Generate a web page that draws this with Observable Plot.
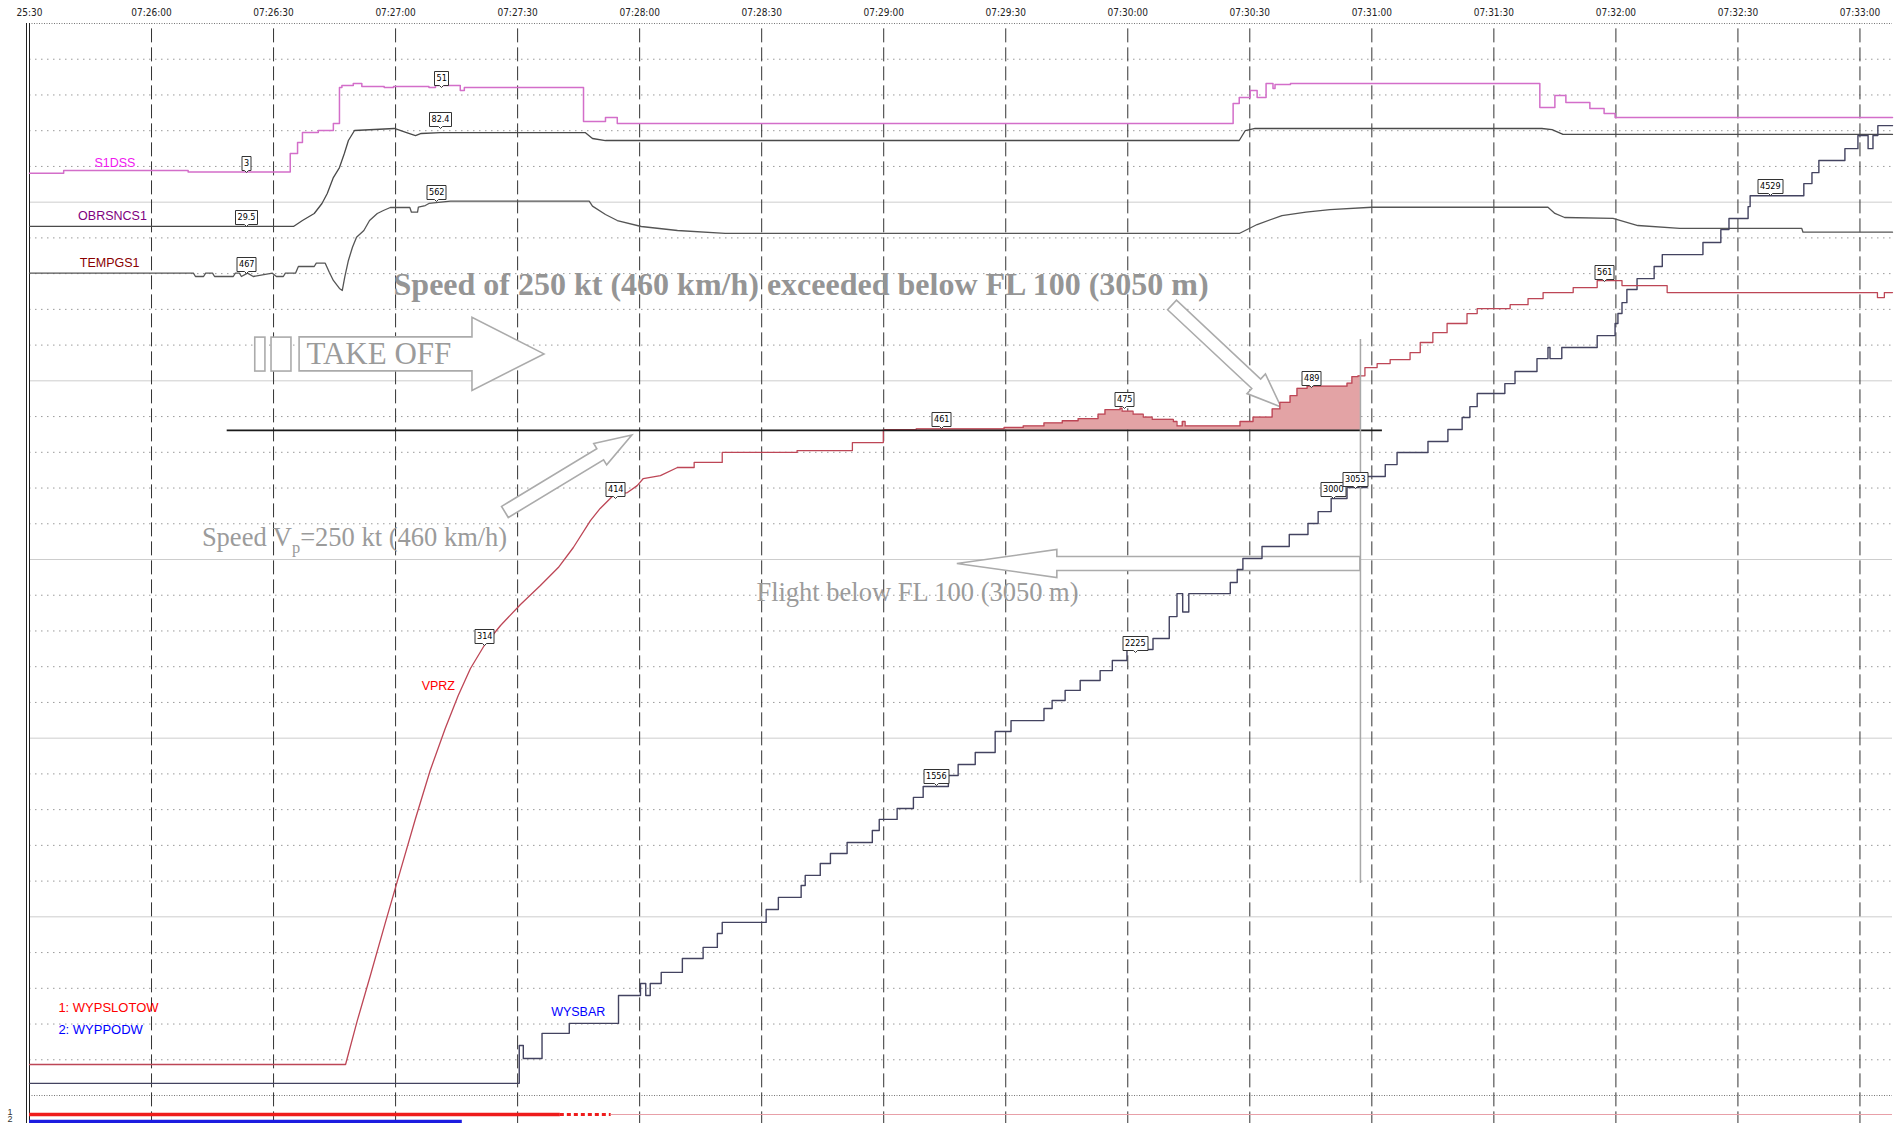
<!DOCTYPE html>
<html><head><meta charset="utf-8">
<script src="https://cdn.jsdelivr.net/npm/d3@7"></script>
<script src="https://cdn.jsdelivr.net/npm/@observablehq/plot@0.6"></script>
<style>html,body{margin:0;padding:0;background:#fff;overflow:hidden}#chart svg{display:block}
g[aria-label=tip] path{filter:none}</style>
</head><body><div id="chart"></div>
<script>
// ---------- time axis ----------
const BASE = Date.UTC(2010, 3, 10, 7, 25, 30);
const T = s => new Date(BASE + s * 1000);
const tickSeconds = [0, 30, 60, 90, 120, 150, 180, 210, 240, 270, 300, 330, 360, 390, 420, 450];
const tickLabels = ["25:30", "07:26:00", "07:26:30", "07:27:00", "07:27:30", "07:28:00", "07:28:30", "07:29:00",
  "07:29:30", "07:30:00", "07:30:30", "07:31:00", "07:31:30", "07:32:00", "07:32:30", "07:33:00"];

// ---------- series [seconds after 07:25:30, value] ----------
const S1DSS = [[0,2.6],[8.4,4.1],[39,3.2],[64.1,13.7],[65.9,19.9],[67.1,25.6],[71,26.7],[74.7,30.7],[76.2,51],[76.8,52.1],
  [79.6,53.3],[81.7,51.6],[87.2,51],[89.5,51.6],[98.2,51],[99.8,52.1],[105.9,49.3],[106.9,51],[136.2,31.8],[141.6,34.1],
  [144.5,30.7],[295.9,42],[297.4,45.3],[300.1,49.3],[301.8,45.3],[304,53.3],[305.7,50.4],[306.2,52.7],[310,53.3],
  [371.3,39.7],[375,46.5],[377.7,42.5],[383.6,39.1],[387.1,36.3],[389.8,34.1],[458,34.1]];
const OBRSNCS1 = [[0,29.5],[64.9,29.5],[67.1,32.7],[70,36.5],[71.9,41.9],[73.2,47.3],[74.7,55.9],[76.2,61.3],[77.4,68.9],
  [78.4,75.9],[79.9,81.3],[89.7,82.4],[92.7,80.2],[94.9,78.6],[96.3,79.7],[101,80.2],[136.6,80.2],[138.4,77],[141.6,75.9],
  [297.4,75.9],[298.9,81.3],[301.3,82.4],[371.8,82.4],[374.3,81.8],[377,79.2],[458,79.2]];
const TEMPGS1 = [[0,467],[40.3,467],[40.8,462.6],[42.8,462.6],[43.3,467],[45,467],[45.5,462.6],[50.1,462.6],[50.6,467],
  [51.6,467],[52.1,462.6],[53.6,467],[55,462.6],[59.7,467],[60.7,462.6],[62.4,462.6],[62.9,467],[65.4,467],[66.1,475.8],
  [70,475.8],[70.5,480.2],[72.7,480.2],[73.7,468.3],[74.7,457.4],[76.2,446.8],[76.9,444.2],[77.5,461.7],[78.4,483.8],
  [79.4,501.3],[80.4,514.5],[82.2,523.3],[83.6,536.5],[85.5,545.8],[87,549.7],[88.7,553.7],[93.5,553.7],[93.9,547.5],
  [95.4,547.5],[95.6,554.1],[97.3,556.3],[98.2,559],[103.5,562],[137.6,562],[138.4,555.5],[141.6,544.4],[144.5,536.5],
  [150.4,528.6],[159.3,523.3],[171,519.4],[297.4,519.4],[301.8,531.2],[307.9,543.1],[313.8,547.6],[319.7,551],[330,554],
  [373.3,554],[375,545.8],[377.4,540.5],[389.3,539.2],[395.4,529.9],[405.7,526],[435.7,526],[436,521.1],[458,521.1]];
const VPRZ_CLIMB = [[0,29.7],[77.7,29.7],[80.6,59.6],[83.8,90.1],[87.5,126.1],[91.2,161.4],[94.9,196.6],[98.5,229.2],
  [102.2,257.7],[105.4,280.1],[108.4,298.4],[111.8,314],[115.8,327.6],[120.7,341.8],[125.6,354.7],[130,366.9],[133.7,380.5],
  [137.9,398.8],[140.3,407],[143.5,415.8],[147,417.8],[149.4,422.5],[150.9,427.3],[155.1,429.3],[159.3,434.8]];
const VPRZ_CRUISE = [[159.3,434.8],[163.4,438.2],[170.3,445],[188.7,446.3],[202.3,451.7],[209.9,460.5],[218,461],[239.6,462],
  [244.3,463],[249.4,465],[253.9,466.5],[257.8,468],[262.7,471],[264.4,474],[268.1,475],[268.6,473],[271.3,471],[273.8,469],
  [276,467.5],[281.2,466],[282.1,463],[283.4,466],[284.1,463],[297.6,466],[300.8,469],[305.5,474.5],[307.4,479],[309.9,483.5],
  [311.6,488.5],[314.1,490],[323.9,492],[325.1,496.5],[326.6,497],[328.3,502.6],[331.3,505.3],[334.5,508],[339.4,512.8],
  [341.9,519.6],[345,526.3],[348.5,532.5],[353.4,539.2],[355.9,542.6],[364,545.3],[368.4,549.4],[372.1,553.5],[379.5,556.9],
  [385.4,561.6],[391.5,558.2],[402.6,553.5],[454.3,550.1],[456,553.5],[458,553.5]];
const WYSBAR = [[0,55],[120.4,246],[121.4,180],[126,307],[132.7,357],[144.8,498],[150.2,558],[151.5,498],[152.6,558],
  [155.3,614],[160.5,684],[165.6,740],[169.1,810],[170.3,866],[181.1,931],[184.1,992],[189.7,1052],[190.7,1103],[194.4,1163],
  [196.9,1213],[201,1269],[207.2,1329],[208.9,1385],[213.3,1440],[217.3,1496],[219.7,1551],[225.9,1606],[228.3,1662],
  [232.5,1722],[237.4,1828],[241.3,1883],[249.4,1944],[251.4,1984],[254.6,2035],[258.3,2085],[263.2,2135],[266.2,2186],
  [269.8,2241],[276.2,2297],[280.2,2407],[282.1,2523],[283.5,2430],[285,2523],[295.2,2579],[296.9,2644],[298.3,2700],
  [303,2760],[309.7,2821],[314.3,2876],[316.8,2936],[320,3002],[323.9,3057],[328.8,3113],[333.3,3173],[336.2,3234],
  [343.8,3289],[348.7,3350],[352.2,3410],[354.1,3465],[355.9,3531],[362.7,3581],[365.2,3642],[370.6,3707],[373.3,3763],
  [373.8,3707],[376.7,3763],[385.4,3823],[389.8,3884],[390.5,3934],[391.5,3989],[392.7,4055],[395.2,4110],[399.4,4171],
  [401.4,4231],[411.4,4292],[415.8,4357],[417.8,4413],[422.5,4473],[423,4528],[436.2,4589],[438.2,4644],[439.9,4705],
  [446.3,4765],[449.5,4831],[452,4765],[453.2,4831],[454.4,4881],[458,4881]];

// value boxes: [series, seconds, value]
const valueLabels = [["S1DSS",53.3,3],["OBRSNCS1",53.3,29.5],["TEMPGS1",53.3,467],["S1DSS",101.3,51],["OBRSNCS1",101,82.4],
  ["TEMPGS1",100.1,562],["VPRZ",111.8,314],["VPRZ",144,414],["VPRZ",224.1,461],["VPRZ",269.1,475],["VPRZ",315.1,489],
  ["VPRZ",387.1,561],["WYSBAR",222.9,1556],["WYSBAR",271.8,2225],["WYSBAR",320.5,3000],["WYSBAR",325.9,3053],["WYSBAR",427.9,4529]];
// series names: [name, seconds, value in series units]
const seriesNames = [["S1DSS",21.0,8.6],["OBRSNCS1",20.4,34.9],["TEMPGS1",19.7,481],["VPRZ",100.5,286.2],["WYSBAR",134.9,417]];
// binary event tracks
const eventNames = ["WYPSLOTOW", "WYPPODW"];
const eventSpans = [["WYPSLOTOW",0,130.5,"on"],["WYPSLOTOW",130.5,143,"flicker"],["WYPSLOTOW",143,458,"off"],["WYPPODW",0,106.4,"on"]];
const SPEED_LIMIT = 460;      // km/h
const FL100_TIME = 327.2;     // s

// ---------- per-trace scaling onto shared chart levels (0 = bottom, 30 = top) ----------
const calib = {
  VPRZ: [[314, 12.593], [561, 22.780]],
  WYSBAR: [[1556, 8.676], [4529, 25.187]],
  S1DSS: [[3, 25.831], [51, 28.209]],
  OBRSNCS1: [[29.5, 24.320], [82.4, 27.062]],
  TEMPGS1: [[467, 23.013], [562, 25.027]]
};
const lv = (s, v) => { const [[a, la], [b, lb]] = calib[s]; return la + (v - a) * (lb - la) / (b - a); };
const rows = (s, pts) => pts.map(([t, v]) => ({x: T(t), y: lv(s, v)}));
const laneLevel = {WYPSLOTOW: -0.532, WYPPODW: -0.728};
const laneColor = {WYPSLOTOW: "#ee1c1c", WYPPODW: "#1c1ce0"};

const colors = {S1DSS: "#d36ec9", OBRSNCS1: "#4a4a4a", TEMPGS1: "#555", VPRZ: "#bd4656", WYSBAR: "#434360"};
const nameColors = {S1DSS: "#f018f0", OBRSNCS1: "#800080", TEMPGS1: "#8a0000", VPRZ: "#ff0000", WYSBAR: "#0000ff"};

const GRAY = "#9b9b9b";
const serif = "Liberation Serif, 'Times New Roman', serif";
const narrow = "'Liberation Sans Narrow', 'Arial Narrow', 'DejaVu Sans Condensed', sans-serif";
const sans = "'Liberation Sans', Arial, sans-serif";

// annotations (time in s, y in chart levels)
const arrows = [
  {t1: 66.4, l1: 20.74, t2: 126.6, l2: 20.74, shaft: 17, head: 36.5, headLen: 72},
  {t1: 281.0, l1: 22.109, t2: 307.8, l2: 19.254, shaft: 6.5, head: 13.5, headLen: 34},
  {t1: 117.0, l1: 16.316, t2: 148.2, l2: 18.47, shaft: 6.5, head: 12.5, headLen: 37},
  {t1: FL100_TIME, l1: 14.874, t2: 228.1, l2: 14.874, shaft: 7, head: 14, headLen: 100}
];
const boxes = [[55.5, 58.0, 20.26, 21.21], [59.5, 64.4, 20.26, 21.21]];
const boldNote = {text: "Speed of 250 kt (460 km/h) exceeded below FL 100 (3050 m)", t: 89.5, l: 22.70, size: 32};
const notes = [
  {text: "TAKE OFF", t: 68.1, l: 20.74, size: 31},
  {text: "Flight below FL 100 (3050 m)", t: 178.7, l: 14.08, size: 26.5}
];
const vpNote = {parts: ["Speed V", "p", "=250 kt (460 km/h)"], t: 42.5, l: 15.59, size: 26.5};
const legendLines = [["1: WYPSLOTOW", "#ff0000", 2.463], ["2: WYPPODW", "#0000ff", 1.847]];

// ---------- derived tables ----------
const fillRows = rows("VPRZ", VPRZ_CRUISE.filter(([t]) => t >= 209.9 && t <= FL100_TIME)
  .concat([[FL100_TIME, 497]]));
const tipRows = valueLabels.map(([s, t, v]) => ({x: T(t), y: lv(s, v), text: String(v), s}));
const nameRows = seriesNames.map(([s, t, v]) => ({x: T(t), y: lv(s, v), s}));
const spanRows = eventSpans.map(([e, a, b, k]) => ({x1: T(a), x2: T(b), y: laneLevel[e], e, k}));
const tickRows = tickLabels.map((txt, i) => ({x: T(tickSeconds[i]), txt}));
const limitL = lv("VPRZ", SPEED_LIMIT);

const hDotted = d3.range(1, 30).filter(l => l % 5 !== 0);
const hSolid = [5, 10, 15, 20, 25];

function arrowMark(index, scales) {
  const g = d3.create("svg:g");
  for (const a of arrows) {
    const x1 = scales.x(T(a.t1)), y1 = scales.y(a.l1), x2 = scales.x(T(a.t2)), y2 = scales.y(a.l2);
    const dx = x2 - x1, dy = y2 - y1, L = Math.hypot(dx, dy), ux = dx / L, uy = dy / L, nx = -uy, ny = ux;
    const bx = x2 - ux * a.headLen, by = y2 - uy * a.headLen;
    const p = [[x1 + nx * a.shaft, y1 + ny * a.shaft], [bx + nx * a.shaft, by + ny * a.shaft], [bx + nx * a.head, by + ny * a.head],
      [x2, y2], [bx - nx * a.head, by - ny * a.head], [bx - nx * a.shaft, by - ny * a.shaft], [x1 - nx * a.shaft, y1 - ny * a.shaft]];
    g.append("path").attr("d", "M" + p.map(q => q.join(",")).join("L") + "Z")
      .attr("fill", "white").attr("stroke", "#ababab").attr("stroke-width", 1.6);
  }
  return g.node();
}
function vpMark(index, scales) {
  const t = d3.create("svg:text").attr("x", scales.x(T(vpNote.t))).attr("y", scales.y(vpNote.l)).attr("dy", "0.32em")
    .attr("text-anchor", "start").attr("font-family", serif).attr("font-size", vpNote.size).attr("fill", GRAY);
  t.append("tspan").text(vpNote.parts[0]);
  t.append("tspan").attr("font-size", vpNote.size * 0.62).attr("dy", 7).text(vpNote.parts[1]);
  t.append("tspan").attr("dy", -7).text(vpNote.parts[2]);
  return t.node();
}

const chart = Plot.plot({
  width: 1896, height: 1123,
  marginTop: 23, marginBottom: 28, marginLeft: 29, marginRight: 4,
  x: {type: "utc", domain: [T(0), T(458)], axis: null},
  y: {domain: [0, 30], axis: null},
  style: {background: "white", fontFamily: sans},
  marks: [
    Plot.ruleY(hSolid, {stroke: "#cdcdcd", strokeWidth: 1}),
    Plot.ruleY(hDotted, {stroke: "#9a9a9a", strokeDasharray: "1.5,4.5"}),
    Plot.ruleY([0, 30], {stroke: "#777", strokeDasharray: "1,1.5"}),
    Plot.ruleX(tickSeconds.slice(1).map(T), {y1: -0.85, y2: 30, stroke: "#333", strokeDasharray: "14,5"}),
    Plot.ruleX([T(0)], {y1: -0.85, y2: 30, stroke: "#222"}),
    Plot.ruleX([T(0)], {y1: -0.85, y2: 30, stroke: "#222", dx: -3}),
    // event tracks
    Plot.ruleY(spanRows.filter(d => d.k === "on"), {x1: "x1", x2: "x2", y: "y", stroke: d => laneColor[d.e], strokeWidth: 3.5}),
    Plot.ruleY(spanRows.filter(d => d.k === "flicker"), {x1: "x1", x2: "x2", y: "y", stroke: d => laneColor[d.e], strokeWidth: 3, strokeDasharray: "4,3"}),
    Plot.ruleY(spanRows.filter(d => d.k === "off"), {x1: "x1", x2: "x2", y: "y", stroke: "#e8a0a8", strokeWidth: 1}),
    Plot.text(eventNames, {x: T(0), y: d => laneLevel[d] + 0.08, text: (d, i) => String(i + 1), dx: -22, fontSize: 9, fill: "#333", textAnchor: "start"}),
    // annotation shapes
    arrowMark,
    Plot.rect(boxes, {x1: d => T(d[0]), x2: d => T(d[1]), y1: d => d[2], y2: d => d[3], fill: "white", stroke: "#ababab", strokeWidth: 1.6}),
    // exceedance fill
    Plot.areaY(fillRows, {x: "x", y1: limitL, y2: "y", curve: "step-after", fill: "#e3a3a5"}),
    // traces
    Plot.line(rows("OBRSNCS1", OBRSNCS1), {x: "x", y: "y", stroke: colors.OBRSNCS1, strokeWidth: 1.3}),
    Plot.line(rows("TEMPGS1", TEMPGS1), {x: "x", y: "y", stroke: colors.TEMPGS1, strokeWidth: 1.3}),
    Plot.line(rows("S1DSS", S1DSS), {x: "x", y: "y", curve: "step-after", stroke: colors.S1DSS, strokeWidth: 1.5}),
    Plot.line(rows("WYSBAR", WYSBAR), {x: "x", y: "y", curve: "step-after", stroke: colors.WYSBAR, strokeWidth: 1.4}),
    Plot.line(rows("VPRZ", VPRZ_CLIMB), {x: "x", y: "y", stroke: colors.VPRZ, strokeWidth: 1.3}),
    Plot.line(rows("VPRZ", VPRZ_CRUISE), {x: "x", y: "y", curve: "step-after", stroke: colors.VPRZ, strokeWidth: 1.3}),
    // speed limit & FL100 markers
    Plot.ruleY([{y: limitL, x1: T(48.6), x2: T(332.6)}], {y: "y", x1: "x1", x2: "x2", stroke: "#1a1a1a", strokeWidth: 1.6}),
    Plot.ruleX([{x: T(FL100_TIME), y1: 5.93, y2: 21.16}], {x: "x", y1: "y1", y2: "y2", stroke: "#a8a8a8", strokeWidth: 1.5}),
    // annotation texts
    Plot.text([boldNote], {x: d => T(d.t), y: "l", text: "text", textAnchor: "start", fontFamily: serif,
      fontSize: boldNote.size, fontWeight: "bold", fill: "#959595"}),
    Plot.text(notes, {x: d => T(d.t), y: "l", text: "text", textAnchor: "start", fontFamily: serif,
      fontSize: d => d.size, fill: GRAY}),
    vpMark,
    // series names and legend
    Plot.text(nameRows, {x: "x", y: "y", text: "s", fill: d => nameColors[d.s], fontSize: 12.5, fontFamily: sans}),
    Plot.text(legendLines, {x: T(7.1), y: d => d[2], text: d => d[0], fill: d => d[1], textAnchor: "start", fontSize: 13, fontFamily: sans}),
    // value boxes
    Plot.tip(tipRows, {x: "x", y: "y", title: "text", anchor: "bottom", fontSize: 9, fontFamily: narrow,
      textPadding: 2, pointerSize: 4, stroke: "#333", strokeWidth: 1, fill: "white", pathFilter: "none"}),
    // time tick labels
    Plot.text(tickRows, {x: "x", y: 30, text: "txt", dy: -11, fontSize: 10, fontFamily: narrow, fill: "#222"})
  ]
});
document.getElementById("chart").appendChild(chart);
</script></body></html>
